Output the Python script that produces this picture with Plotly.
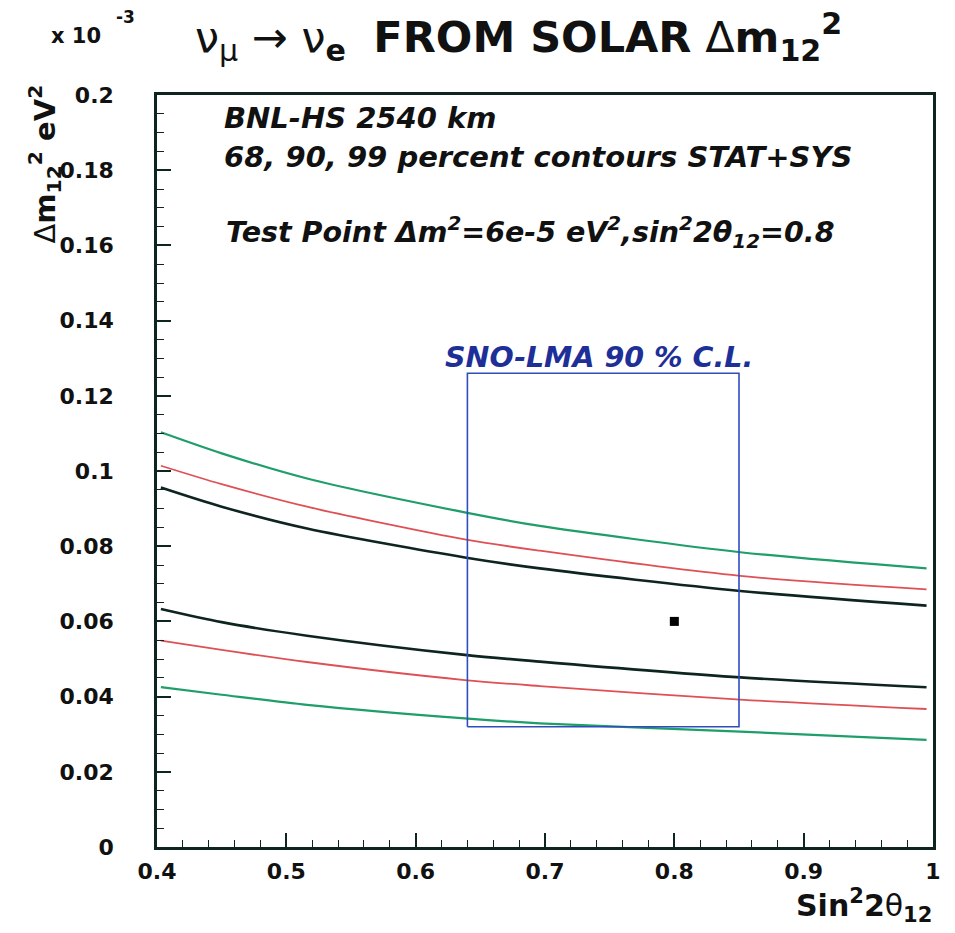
import plotly.graph_objects as go

# ---- data ----
X_CURVE = [0.403, 0.45, 0.516, 0.638, 0.696, 0.851, 0.995]
GREEN_UP = [0.1103, 0.1047, 0.0980, 0.0890, 0.0854, 0.0784, 0.0741]
RED_UP = [0.1014, 0.0965, 0.0905, 0.0818, 0.0788, 0.0721, 0.0685]
BLACK_UP = [0.0956, 0.0905, 0.0847, 0.0770, 0.0741, 0.0681, 0.0642]
BLACK_LO = [0.0633, 0.0598, 0.0562, 0.0511, 0.0493, 0.0451, 0.0425]
RED_LO = [0.0549, 0.0524, 0.0492, 0.0444, 0.0428, 0.0392, 0.0367]
GREEN_LO = [0.0425, 0.0405, 0.0378, 0.0342, 0.0329, 0.0307, 0.0285]

SNO_X = [0.64, 0.85]
SNO_Y = [0.032, 0.126]

TEST_X = [0.8]
TEST_Y = [0.06]

X_TICKS = [0.4, 0.5, 0.6, 0.7, 0.8, 0.9, 1.0]
X_TICKTEXT = ["0.4", "0.5", "0.6", "0.7", "0.8", "0.9", "1"]
Y_TICKS = [0, 0.02, 0.04, 0.06, 0.08, 0.1, 0.12, 0.14, 0.16, 0.18, 0.2]
Y_TICKTEXT = ["0", "0.02", "0.04", "0.06", "0.08", "0.1", "0.12", "0.14", "0.16", "0.18", "0.2"]

GREEN = "#1e9e68"
RED = "#de5055"
BLACK = "#0e2420"
BLUE = "#2f4dbd"
FONT = "DejaVu Sans"

W, H = 955, 933
ML, MR, MT, MB = 157, 22, 95, 86
PW, PH = W - ML - MR, H - MT - MB


def px(xp):
    return (xp - ML) / PW


def py(yp):
    return (H - MB - yp) / PH


fig = go.Figure()
for ys, col, wdt in [(GREEN_UP, GREEN, 2.2), (RED_UP, RED, 1.8), (BLACK_UP, BLACK, 2.6),
                     (BLACK_LO, BLACK, 2.6), (RED_LO, RED, 1.8), (GREEN_LO, GREEN, 2.2)]:
    fig.add_trace(go.Scatter(x=X_CURVE, y=ys, mode="lines",
                             line=dict(color=col, width=wdt, shape="spline", smoothing=0.8),
                             showlegend=False, hoverinfo="skip"))

fig.add_trace(go.Scatter(
    x=[SNO_X[0], SNO_X[1], SNO_X[1], SNO_X[0], SNO_X[0]],
    y=[SNO_Y[0], SNO_Y[0], SNO_Y[1], SNO_Y[1], SNO_Y[0]],
    mode="lines", line=dict(color=BLUE, width=1.6), showlegend=False, hoverinfo="skip"))

fig.add_trace(go.Scatter(x=TEST_X, y=TEST_Y, mode="markers",
                         marker=dict(symbol="square", size=9, color="black"),
                         showlegend=False))

axis_common = dict(
    showgrid=False, zeroline=False, showline=True, linecolor="#0e2420", linewidth=2.5,
    mirror=True, ticks="inside", ticklen=14, tickwidth=1.5, tickcolor="#0e2420",
    tickfont=dict(family=FONT, size=22, color="#111", weight="bold"),
)

fig.update_xaxes(range=[0.4, 1.0], tickvals=X_TICKS, ticktext=X_TICKTEXT,
                 ticklabelstandoff=3,
                 minor=dict(dtick=0.02, ticks="inside", ticklen=7, tickwidth=1.2,
                            tickcolor="#0e2420"),
                 **axis_common)
fig.update_yaxes(range=[0, 0.2], tickvals=Y_TICKS, ticktext=Y_TICKTEXT,
                 ticklabelstandoff=36,
                 minor=dict(dtick=0.005, ticks="inside", ticklen=7, tickwidth=1.2,
                            tickcolor="#0e2420"),
                 **axis_common)

ann = []
bi = dict(family=FONT, size=29, color="#111", weight="bold", style="italic")
ann.append(dict(x=px(222), y=py(118), text="BNL-HS 2540 km", font=bi,
                xanchor="left", yanchor="middle"))
ann.append(dict(x=px(222), y=py(157), text="68, 90, 99 percent contours STAT+SYS", font=bi,
                xanchor="left", yanchor="middle"))
ann.append(dict(x=px(224), y=py(232),
                text="Test Point Δm<sup>2</sup>=6e-5 eV<sup>2</sup>,sin<sup>2</sup>2θ<sub>12</sub>=0.8",
                font=dict(family=FONT, size=28.5, color="#111", weight="bold", style="italic"),
                xanchor="left", yanchor="middle"))
ann.append(dict(x=px(443), y=py(357), text="SNO-LMA 90 % C.L.",
                font=dict(family=FONT, size=28.5, color="#1e2f98", weight="bold", style="italic"),
                xanchor="left", yanchor="middle"))
# title
ann.append(dict(x=px(193), y=py(37),
                text="ν<sub>μ</sub> → ν<sub><b>e</b></sub>  <b>FROM SOLAR</b> Δ<b>m<sub>12</sub><sup>2</sup></b>",
                font=dict(family=FONT, size=43, color="#111"),
                xanchor="left", yanchor="middle"))
# x axis title
ann.append(dict(x=px(934), y=py(905),
                text="<b>Sin<sup>2</sup>2</b>θ<b><sub>12</sub></b>",
                font=dict(family=FONT, size=30, color="#111"),
                xanchor="right", yanchor="middle"))
# y axis title
ann.append(dict(x=px(44), y=py(82),
                text="Δ<b>m<sub>12</sub><sup>2</sup> eV<sup>2</sup></b>",
                font=dict(family=FONT, size=29, color="#111"), textangle=-90,
                xanchor="center", yanchor="top"))
# exponent
ann.append(dict(x=px(49), y=py(36), text="x 10",
                font=dict(family=FONT, size=21, color="#111", weight="bold"),
                xanchor="left", yanchor="middle"))
ann.append(dict(x=px(114), y=py(17), text="-3",
                font=dict(family=FONT, size=17, color="#111", weight="bold"),
                xanchor="left", yanchor="middle"))

for a in ann:
    a.update(xref="paper", yref="paper", showarrow=False)

fig.update_layout(width=W, height=H, margin=dict(l=ML, r=MR, t=MT, b=MB),
                  plot_bgcolor="white", paper_bgcolor="white", annotations=ann,
                  font=dict(family=FONT))

fig.write_html("out.html")
